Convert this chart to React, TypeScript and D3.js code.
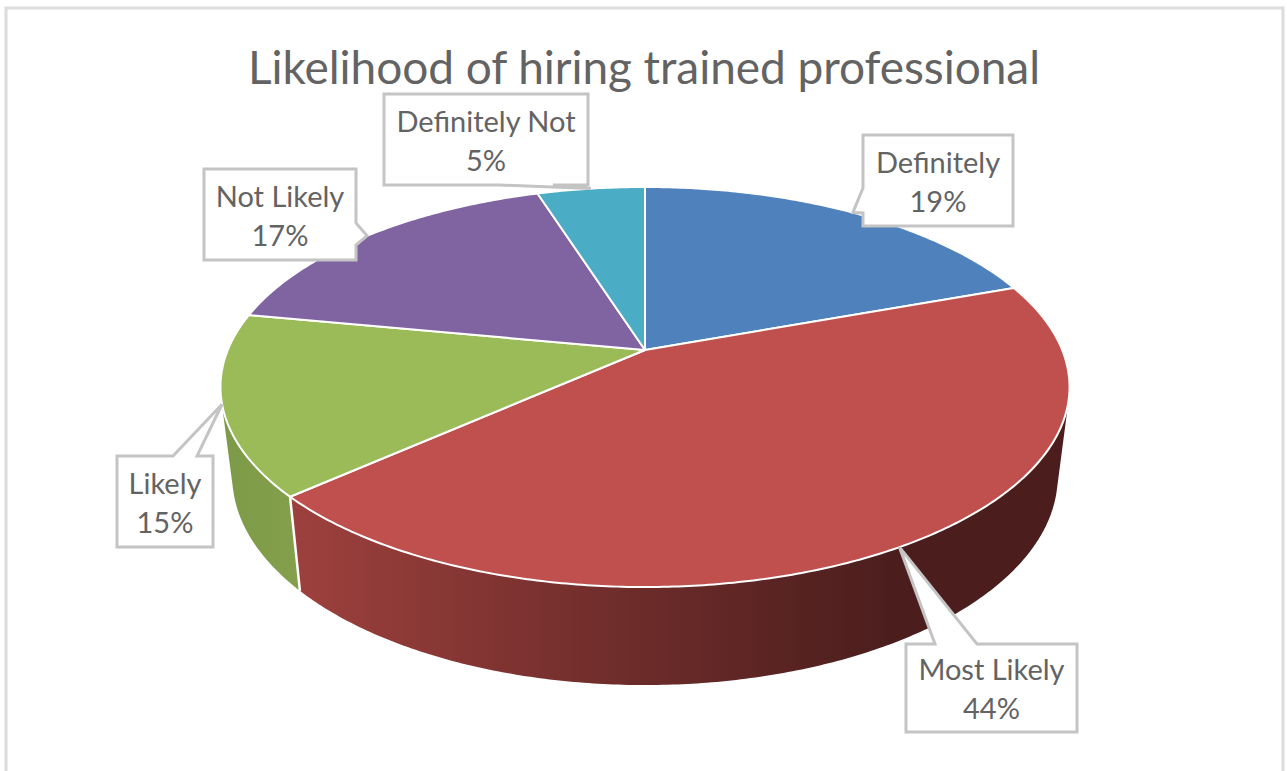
import React from "react";
import * as d3 from "d3";

const categories = ["Definitely", "Most Likely", "Likely", "Not Likely", "Definitely Not"];
const shares = [19.45, 43.95, 14.6, 17.1, 4.9];
const topColors = ["#4f81bd", "#c0504d", "#9bbb59", "#8064a2", "#4bacc6"];
const chartTitle = "Likelihood of hiring trained professional";
const FONT = "Lato, 'Open Sans', sans-serif";

// callout layout: box and pointer base
const callouts = [
  { x0: 863, x1: 1013, y0: 135, y1: 226, side: "left", a: 188, b: 213 },
  { x0: 906, x1: 1077, y0: 644, y1: 732, side: "top", a: 935, b: 977 },
  { x0: 117, x1: 213, y0: 456, y1: 547, side: "top", a: 173, b: 197 },
  { x0: 204, x1: 356, y0: 169, y1: 260, side: "right", a: 223, b: 245 },
  { x0: 384, x1: 588, y0: 94, y1: 185, side: "bottom", a: 500, b: 553 },
];

const K = 0.185;
const top = (t: number): [number, number] => {
  const w = 1 + K * Math.cos(t);
  return [645 + (417.2 * Math.sin(t)) / w, 350 - (193.2 * Math.cos(t)) / w];
};
const bottom = (t: number): [number, number] => {
  const w = 1 + K * Math.cos(t);
  return [645 + (405.6 * Math.sin(t)) / w, 437.7 - (201.6 * Math.cos(t)) / w];
};

const samples = (a: number, b: number) => {
  const n = Math.max(2, Math.ceil((b - a) / 0.01));
  return d3.range(n + 1).map((i) => a + ((b - a) * i) / n);
};

const line = d3.line();

function wallPath(a: number, b: number) {
  const ts = samples(a, b);
  let d = "";
  for (let i = 0; i < ts.length - 1; i++) {
    const quad: [number, number][] = [top(ts[i]), top(ts[i + 1]), bottom(ts[i + 1]), bottom(ts[i])];
    // keep every quad wound the same way so that overlaps do not cancel
    if (d3.polygonArea(quad) < 0) quad.reverse();
    d += line(quad) + "Z";
  }
  return d;
}

function calloutPath(c: (typeof callouts)[number], tip: [number, number]) {
  const p: [number, number][] = [[c.x0, c.y0]];
  if (c.side === "top") p.push([c.a, c.y0], tip, [c.b, c.y0]);
  p.push([c.x1, c.y0]);
  if (c.side === "right") p.push([c.x1, c.a], tip, [c.x1, c.b]);
  p.push([c.x1, c.y1]);
  if (c.side === "bottom") p.push([c.b, c.y1], tip, [c.a, c.y1]);
  p.push([c.x0, c.y1]);
  if (c.side === "left") p.push([c.x0, c.b], tip, [c.x0, c.a]);
  return line(p) + "Z";
}

export default function App() {
  const arcs = d3.pie<number>().sort(null)(shares);
  const fmt = d3.format(".0%");
  const total = d3.sum(shares);
  return (
    <svg
      width={1287}
      height={771}
      style={{ position: "absolute", left: 0, top: 0, background: "#fff" }}
    >
      <defs>
        <linearGradient id="wallRed" gradientUnits="userSpaceOnUse" x1={300} x2={890} y1={0} y2={0}>
          <stop offset="0" stopColor="#9c403d" />
          <stop offset="0.5" stopColor="#722e2c" />
          <stop offset="1" stopColor="#4b1e1d" />
        </linearGradient>
        <linearGradient id="wallGreen" gradientUnits="userSpaceOnUse" x1={225} x2={300} y1={0} y2={0}>
          <stop offset="0" stopColor="#7d9a48" />
          <stop offset="1" stopColor="#84a04c" />
        </linearGradient>
      </defs>
      <rect x={6} y={8} width={1277} height={780} fill="#fff" stroke="#dcdcdc" strokeWidth={3} />
      <text
        x={644}
        y={84}
        textAnchor="middle"
        fontFamily={FONT}
        fontSize={46}
        fill="#636363"
        textLength={792}
        lengthAdjust="spacing"
      >
        {chartTitle}
      </text>
      {arcs.map((a, i) =>
        i === 1 || i === 2 ? (
          <path
            key={"w" + i}
            d={wallPath(a.startAngle, a.endAngle)}
            fill={i === 1 ? "url(#wallRed)" : "url(#wallGreen)"}
          />
        ) : null
      )}
      {arcs.slice(1, 2).map((a) => (
        <path
          key="edge"
          d={line([top(a.endAngle), bottom(a.endAngle)]) as string}
          stroke="#fff"
          strokeWidth={2.5}
          fill="none"
        />
      ))}
      {arcs.map((a, i) => {
        const pts = samples(a.startAngle, a.endAngle).map(top);
        return (
          <path
            key={"s" + i}
            d={line([[645, 350], ...pts]) + "Z"}
            fill={topColors[i]}
            stroke="#fff"
            strokeWidth={2}
            strokeLinejoin="round"
          />
        );
      })}
      {arcs.map((a, i) => {
        const c = callouts[i];
        const tip = top((a.startAngle + a.endAngle) / 2);
        const cx = (c.x0 + c.x1) / 2;
        const cy = (c.y0 + c.y1) / 2;
        return (
          <g key={"c" + i}>
            <path d={calloutPath(c, tip)} fill="#fff" stroke="#c4c4c4" strokeWidth={3} strokeLinejoin="miter" />
            <text x={cx} y={cy - 8} textAnchor="middle" fontFamily={FONT} fontSize={29} fill="#636363">
              {categories[i]}
            </text>
            <text x={cx} y={cy + 31} textAnchor="middle" fontFamily={FONT} fontSize={29} fill="#636363">
              {fmt(shares[i] / total)}
            </text>
          </g>
        );
      })}
    </svg>
  );
}
